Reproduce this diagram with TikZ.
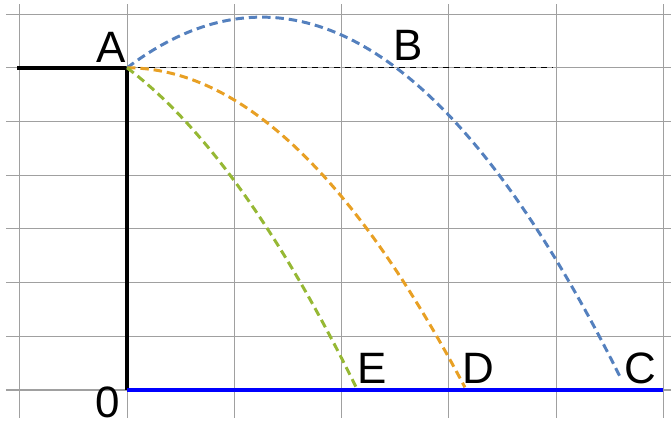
\documentclass[tikz,border=0pt]{standalone}
\usepackage{fontspec}
\setmainfont{Liberation Sans}
\usepackage{xcolor}
\definecolor{gridgray}{RGB}{160,160,160}
\definecolor{pathblue}{RGB}{84,128,190}
\definecolor{pathorange}{RGB}{232,160,36}
\definecolor{pathgreen}{RGB}{150,184,52}
\definecolor{floorblue}{RGB}{0,0,255}
\usepackage{tikz}
\usetikzlibrary{positioning,calc}

\begin{document}
\begin{tikzpicture}[x=2.146cm, y=1.074cm,
    gridline/.style={draw=gridgray, line width=0.6pt},
    wall/.style={draw=black, line width=2pt},
    floor/.style={draw=floorblue, line width=2.2pt},
    guide/.style={draw=black, line width=0.6pt, dash pattern=on 3.4pt off 2.8pt},
    traj/.style={line width=1.7pt, dash pattern=on 4.8pt off 2.8pt, smooth, samples=60},
    lbl/.style={font=\fontsize{25}{30}\selectfont, inner sep=0pt, anchor=base west},
  ]
    \useasboundingbox (-1.184,-0.577) rectangle (5.07,7.263);

    % grid
    \foreach \gx in {-1,...,5}
      \draw[gridline] (\gx,-0.52) -- (\gx,7.19);
    \foreach \gy in {0,...,7}
      \draw[gridline] (-1.13,\gy) -- (5.07,\gy);

    \coordinate (O) at (0,0);
    \coordinate (A) at (0,6);
    \coordinate (ledge) at (-1.025,6);
    \coordinate (guideend) at (3.97,6);
    \coordinate (floorend) at (5,0);

    % cliff and ground
    \draw[wall] (ledge) -- (A) -- (O);
    \draw[floor] (O) -- (floorend);
    \draw[guide] (A) -- (guideend);

    % the three throws
    \draw[traj, pathblue] plot[domain=0:4.61] (\x,{6+1.505*\x-0.6*\x*\x});
    \draw[traj, pathorange] plot[domain=0:3.15] (\x,{6-0.6*\x*\x});
    \draw[traj, pathgreen] plot[domain=0:2.134] (\x,{6-1.505*\x-0.6*\x*\x});

    \node[lbl] (lA) at (-0.289,6.108) {A};
    \node[lbl] (lB) at (2.483,6.127) {B};
    \node[lbl] (lC) at (4.632,0.130) {C};
    \node[lbl] (lD) at (3.127,0.130) {D};
    \node[lbl] (lE) at (2.148,0.130) {E};
    \node[lbl] (lO) at (-0.298,-0.51) {0};
  \end{tikzpicture}
\end{document}
